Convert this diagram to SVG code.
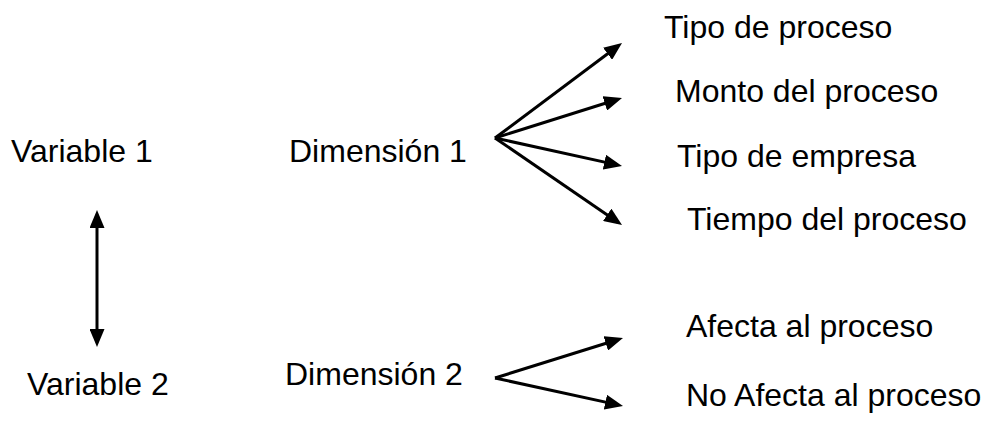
<svg xmlns="http://www.w3.org/2000/svg" width="989" height="425" viewBox="0 0 989 425">
<style>
text{font-family:"Liberation Sans",Arial,sans-serif;font-size:32px;fill:#000}
.c line{stroke:#000;stroke-width:3;fill:none;marker-end:url(#ah)}
.c line.d{marker-start:url(#ah)}
</style>
<defs>
<marker id="ah" markerUnits="userSpaceOnUse" markerWidth="18" markerHeight="15" viewBox="0 0 18 15" refX="13" refY="7.5" orient="auto-start-reverse">
<path d="M0,0 L18,7.5 L0,15 z" fill="#000"/>
</marker>
</defs>
<rect width="989" height="425" fill="#fff"/>
<g id="variable1"><text x="11" y="162">Variable 1</text></g>
<g id="variable2"><text x="27" y="395">Variable 2</text></g>
<g id="dimension1"><text x="289" y="162">Dimensión 1</text></g>
<g id="dimension2"><text x="285" y="385">Dimensión 2</text></g>
<g id="tipo-proceso"><text x="664" y="38">Tipo de proceso</text></g>
<g id="monto-proceso"><text x="675" y="102">Monto del proceso</text></g>
<g id="tipo-empresa"><text x="677" y="167">Tipo de empresa</text></g>
<g id="tiempo-proceso"><text x="687" y="230">Tiempo del proceso</text></g>
<g id="afecta"><text x="686" y="337">Afecta al proceso</text></g>
<g id="no-afecta"><text x="686" y="406">No Afecta al proceso</text></g>
<g id="connectors" class="c">
<line class="d" x1="97" y1="215" x2="97" y2="342"/>
<line x1="495" y1="138" x2="618" y2="46"/>
<line x1="495" y1="138" x2="617.2" y2="99.5"/>
<line x1="495" y1="138" x2="617.1" y2="164.9"/>
<line x1="495" y1="138" x2="617.9" y2="222.2"/>
<line x1="495" y1="378" x2="618.2" y2="339.5"/>
<line x1="495" y1="378" x2="618.1" y2="404.9"/>
</g>
</svg>
